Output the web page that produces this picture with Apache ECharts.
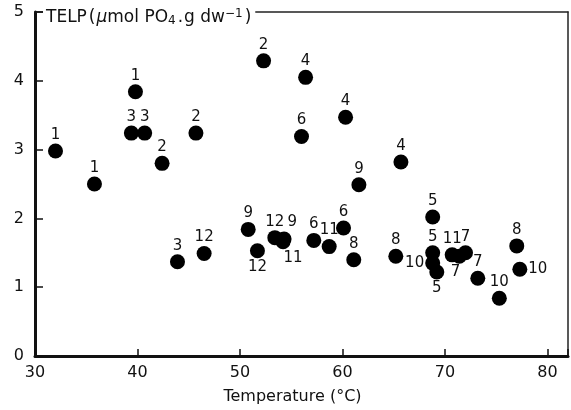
<!DOCTYPE html>
<html>
<head>
    <meta charset="utf-8">
    <title>TELP vs temperature</title>
    <script src="https://cdn.jsdelivr.net/npm/echarts@6/dist/echarts.min.js"></script>
</head>
<body style="margin:0;background:#fff">
    <div id="main" style="width:571px;height:410px"></div>
    <script type="text/javascript">
        // temperature (°C), TELP, plot number and where its number sits
        var temps = [32.0, 35.8, 39.8, 39.4, 40.7, 42.4, 45.7, 52.3, 56.4, 60.3, 56.0, 65.7, 61.6,
            43.9, 46.5, 50.8, 51.7, 53.4, 54.3, 54.2, 57.2, 58.7, 60.1, 61.1, 65.2,
            68.8, 68.8, 68.8, 69.2, 70.7, 71.4, 72.0, 73.2, 75.3, 77.0, 77.3];
        var telp = [2.98, 2.50, 3.84, 3.24, 3.24, 2.80, 3.24, 4.29, 4.05, 3.47, 3.19, 2.82, 2.49,
            1.37, 1.49, 1.84, 1.53, 1.72, 1.70, 1.66, 1.68, 1.59, 1.86, 1.40, 1.45,
            2.02, 1.50, 1.35, 1.22, 1.47, 1.45, 1.50, 1.13, 0.84, 1.60, 1.26];
        var plotNums = ['1', '1', '1', '3', '3', '2', '2', '2', '4', '4', '6', '4', '9',
            '3', '12', '9', '12', '12', '9', '11', '6', '11', '6', '8', '8',
            '5', '5', '10', '5', '11', '7', '7', '7', '10', '8', '10'];
        var labelPos = ['top', 'top', 'top', 'top', 'top', 'top', 'top', 'top', 'top', 'top', 'top', 'top', 'top',
            'top', 'top', 'top', 'bottom', 'top', 'topright', 'bottomright', 'top', 'top', 'top', 'top', 'top',
            'top', 'top', 'left', 'bottom', 'top', 'bottomleft', 'top', 'top', 'top', 'top', 'right'];
        var xTicks = [30, 40, 50, 60, 70, 80];

        var font = 'DejaVu Sans';
        var myChart = echarts.init(document.getElementById('main'), null, { renderer: 'canvas' });

        var points = [];
        for (var i = 0; i < temps.length; i++) {
            var p = labelPos[i], lab = { position: 'top' };
            if (p == 'bottom') lab = { position: 'bottom' };
            if (p == 'left') lab = { position: 'left', distance: 1 };
            if (p == 'right') lab = { position: 'right', distance: 1 };
            // pixel spots relative to the dot's box for the crowded ones
            if (p == 'topright') lab = { position: [11, -17] };
            if (p == 'bottomright') lab = { position: [8, 16] };
            if (p == 'bottomleft') lab = { position: [-1, 16] };
            points.push({ name: plotNums[i], value: [temps[i], telp[i]], label: lab });
        }

        var option = {
            animation: false,
            title: {
                text: 'TELP{p|(}{mu|μ}mol PO{sub|4}{p|.}g dw{sup|−1}{p|)}',
                left: 43,
                top: 6,
                backgroundColor: '#fff',
                padding: [2, 4, 2, 3],
                textStyle: {
                    fontFamily: font, fontSize: 17, fontWeight: 'normal', color: '#111',
                    rich: {
                        p: { fontFamily: font, fontSize: 17, color: '#111', padding: [0, 1, 0, 2] },
                        mu: { fontFamily: font, fontSize: 17, color: '#111', fontStyle: 'italic' },
                        sub: { fontFamily: font, fontSize: 12, color: '#111', verticalAlign: 'bottom', padding: [7, 0, 0, 0] },
                        sup: { fontFamily: font, fontSize: 12, color: '#111', verticalAlign: 'top', padding: [0, 0, 7, 0] }
                    }
                }
            },
            grid: { left: 35, right: 3, top: 12, bottom: 52 },
            xAxis: [{
                type: 'value', min: 30, max: 82, interval: 10,
                name: 'Temperature (°C)', nameLocation: 'middle', nameGap: 33,
                nameTextStyle: { fontFamily: font, fontSize: 16, color: '#111', padding: [0, 18, 0, 0] },
                axisLine: { onZero: false, lineStyle: { color: '#111', width: 3 } },
                axisTick: { inside: true, length: 7, lineStyle: { color: '#111', width: 1.5 } },
                axisLabel: {
                    fontFamily: font, fontSize: 16, color: '#111', margin: 9,
                    formatter: function (v) { return xTicks.indexOf(v) >= 0 ? String(v) : ''; }
                },
                splitLine: { show: false }
            }, {
                type: 'value', min: 30, max: 82, position: 'top',
                axisLine: { onZero: false, lineStyle: { color: '#222', width: 1.5 } },
                axisTick: { show: false }, axisLabel: { show: false }, splitLine: { show: false }
            }],
            yAxis: [{
                type: 'value', min: 0, max: 5, interval: 1,
                axisLine: { onZero: false, lineStyle: { color: '#111', width: 3 } },
                axisTick: { inside: true, length: 8, lineStyle: { color: '#111', width: 1.5 } },
                axisLabel: { fontFamily: font, fontSize: 16, color: '#111', margin: 11 },
                splitLine: { show: false }
            }, {
                type: 'value', min: 0, max: 5, position: 'right',
                axisLine: { onZero: false, lineStyle: { color: '#222', width: 1.5 } },
                axisTick: { show: false }, axisLabel: { show: false }, splitLine: { show: false }
            }],
            series: [{
                type: 'scatter',
                symbol: 'circle',
                symbolSize: 15,
                itemStyle: { color: '#000', opacity: 1 },
                label: {
                    show: true, formatter: '{b}', distance: 1,
                    fontFamily: font, fontSize: 15, color: '#111'
                },
                data: points
            }]
        };

        myChart.setOption(option);
    </script>
</body>
</html>
